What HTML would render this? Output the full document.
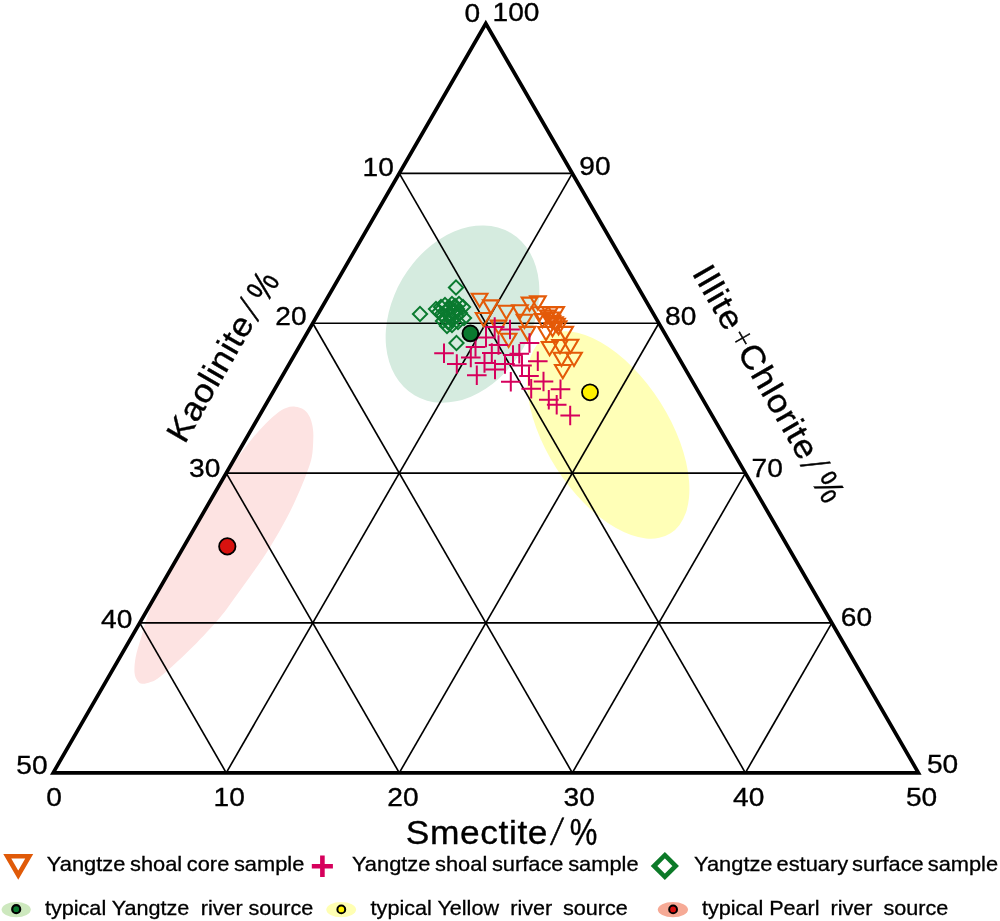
<!DOCTYPE html>
<html><head><meta charset="utf-8"><title>Ternary diagram</title>
<style>html,body{margin:0;padding:0;background:#fff}body{width:1000px;height:921px;overflow:hidden}svg{display:block}text{font-family:"Liberation Sans",Arial,sans-serif;fill:#000;stroke:#000;stroke-width:0.35px}#legend text{stroke-width:0.3px}.thin{font-family:"DejaVu Sans","Liberation Sans",sans-serif;font-weight:200;stroke-width:0.5px}</style></head><body>
<svg width="1000" height="921" viewBox="0 0 1000 921">
<rect width="1000" height="921" fill="#fff"/>
<clipPath id="tri"><polygon points="485.80,23.51 53.20,772.80 918.40,772.80"/></clipPath>
<g id="fields" clip-path="url(#tri)">
<ellipse cx="462.5" cy="314.1" rx="69.7" ry="94.4" transform="rotate(30.6 462.5 314.1)" fill="#d5ebdf"/>
<ellipse cx="608.15" cy="435" rx="61.6" ry="116.4" transform="rotate(-32.44 608.15 435)" fill="#ffffb7"/>
<path d="M295.1 406.7C298.1 407.0 301.5 407.9 304.0 409.7C306.5 411.5 308.5 414.2 310.0 417.5C311.5 420.8 312.5 425.4 313.0 429.4C313.5 433.4 313.4 436.8 313.2 441.4C313.0 446.0 312.8 452.0 311.8 456.9C310.9 461.8 309.5 465.5 307.5 471.0C305.5 476.5 303.3 482.4 300.0 490.0C296.7 497.6 292.4 507.2 287.5 516.6C282.6 526.0 276.2 537.0 270.6 546.2C265.0 555.4 259.5 563.1 253.6 571.6C247.7 580.1 240.9 589.4 235.3 597.0C229.7 604.6 226.9 609.3 220.0 617.5C213.1 625.7 201.6 638.0 193.6 646.1C185.6 654.2 178.1 661.0 172.1 666.4C166.1 671.8 161.4 675.8 157.8 678.4C154.2 681.0 153.2 681.1 150.6 682.0C148.0 682.9 144.4 684.0 142.2 683.8C140.0 683.6 138.8 682.7 137.5 680.8C136.2 678.9 134.8 676.4 134.5 672.4C134.2 668.4 134.6 662.7 135.7 656.9C136.8 651.1 138.9 645.3 141.1 637.8C143.3 630.3 145.3 622.5 149.0 612.0C152.7 601.5 156.8 587.8 163.0 575.0C169.2 562.2 178.7 547.5 186.0 535.0C193.3 522.5 199.3 511.6 207.0 500.0C214.7 488.4 226.6 473.2 232.4 465.2C238.2 457.2 238.3 456.9 241.9 452.1C245.5 447.3 249.9 441.4 253.9 436.6C257.9 431.8 261.8 427.4 265.8 423.4C269.8 419.4 274.4 415.3 277.8 412.7C281.2 410.1 283.2 408.9 286.1 407.9C289.0 406.9 292.1 406.4 295.1 406.7Z" fill="#fde3e2"/>
</g>
<g id="grid" stroke="#000" stroke-width="1.65" fill="none">
<line x1="399.28" y1="173.37" x2="572.32" y2="173.37"/>
<line x1="226.24" y1="772.80" x2="572.32" y2="173.37"/>
<line x1="745.36" y1="772.80" x2="399.28" y2="173.37"/>
<line x1="312.76" y1="323.23" x2="658.84" y2="323.23"/>
<line x1="399.28" y1="772.80" x2="658.84" y2="323.23"/>
<line x1="572.32" y1="772.80" x2="312.76" y2="323.23"/>
<line x1="226.24" y1="473.09" x2="745.36" y2="473.09"/>
<line x1="572.32" y1="772.80" x2="745.36" y2="473.09"/>
<line x1="399.28" y1="772.80" x2="226.24" y2="473.09"/>
<line x1="139.72" y1="622.94" x2="831.88" y2="622.94"/>
<line x1="745.36" y1="772.80" x2="831.88" y2="622.94"/>
<line x1="226.24" y1="772.80" x2="139.72" y2="622.94"/>
</g>
<polygon points="485.80,23.51 53.20,772.80 918.40,772.80" fill="none" stroke="#000" stroke-width="3.7" stroke-linejoin="miter"/>
<g id="core" fill="none" stroke="#e45a08" stroke-width="2.1">
<path d="M471.8 293.8L487.4 293.8L479.6 307.0Z"/>
<path d="M483.0 300.4L498.6 300.4L490.8 313.6Z"/>
<path d="M475.8 313.0L491.4 313.0L483.6 326.2Z"/>
<path d="M498.6 305.8L514.2 305.8L506.4 319.0Z"/>
<path d="M490.7 320.6L506.3 320.6L498.5 333.8Z"/>
<path d="M500.8 333.8L516.4 333.8L508.6 347.0Z"/>
<path d="M512.2 305.2L527.8 305.2L520.0 318.4Z"/>
<path d="M521.7 297.6L537.3 297.6L529.5 310.8Z"/>
<path d="M530.1 296.4L545.7 296.4L537.9 309.6Z"/>
<path d="M516.7 314.7L532.3 314.7L524.5 327.9Z"/>
<path d="M519.7 326.9L535.3 326.9L527.5 340.1Z"/>
<path d="M557.4 326.9L573.0 326.9L565.2 340.1Z"/>
<path d="M541.8 342.0L557.4 342.0L549.6 355.2Z"/>
<path d="M562.7 339.8L578.3 339.8L570.5 353.0Z"/>
<path d="M552.2 340.0L567.8 340.0L560.0 353.2Z"/>
<path d="M566.2 352.8L581.8 352.8L574.0 366.0Z"/>
<path d="M553.7 352.8L569.3 352.8L561.5 366.0Z"/>
<path d="M555.0 365.0L570.6 365.0L562.8 378.2Z"/>
<path d="M532.0 307.2L547.6 307.2L539.8 320.4Z"/>
<path d="M542.2 307.1L557.8 307.1L550.0 320.3Z"/>
<path d="M548.4 307.1L564.0 307.1L556.2 320.3Z"/>
<path d="M540.0 310.6L555.6 310.6L547.8 323.8Z"/>
<path d="M534.7 314.1L550.3 314.1L542.5 327.3Z"/>
<path d="M544.7 315.8L560.3 315.8L552.5 329.0Z"/>
<path d="M549.2 318.7L564.8 318.7L557.0 331.9Z"/>
<path d="M550.8 321.2L566.4 321.2L558.6 334.4Z"/>
<path d="M544.7 323.0L560.3 323.0L552.5 336.2Z"/>
<path d="M538.2 327.0L553.8 327.0L546.0 340.2Z"/>
<path d="M547.2 317.2L562.8 317.2L555.0 330.4Z"/>
<path d="M543.2 312.5L558.8 312.5L551.0 325.7Z"/>
</g>
<g id="surf" fill="none" stroke="#d6005c" stroke-width="2">
<path d="M434.2 353.3H453.8M444.0 343.5V363.1"/>
<path d="M447.0 364.0H466.6M456.8 354.2V373.8"/>
<path d="M461.0 357.5H480.6M470.8 347.7V367.3"/>
<path d="M467.0 375.3H486.6M476.8 365.5V385.1"/>
<path d="M465.7 347.0H485.3M475.5 337.2V356.8"/>
<path d="M476.2 337.5H495.8M486.0 327.7V347.3"/>
<path d="M484.9 327.0H504.5M494.7 317.2V336.8"/>
<path d="M500.2 329.5H519.8M510.0 319.7V339.3"/>
<path d="M482.0 353.0H501.6M491.8 343.2V362.8"/>
<path d="M474.7 363.0H494.3M484.5 353.2V372.8"/>
<path d="M485.2 369.5H504.8M495.0 359.7V379.3"/>
<path d="M488.7 345.0H508.3M498.5 335.2V354.8"/>
<path d="M495.2 364.0H514.8M505.0 354.2V373.8"/>
<path d="M501.0 381.8H520.6M510.8 372.0V391.6"/>
<path d="M503.2 355.0H522.8M513.0 345.2V364.8"/>
<path d="M509.5 353.8H529.1M519.3 344.0V363.6"/>
<path d="M512.2 365.5H531.8M522.0 355.7V375.3"/>
<path d="M528.0 361.2H547.6M537.8 351.4V371.0"/>
<path d="M519.7 343.0H539.3M529.5 333.2V352.8"/>
<path d="M519.2 376.0H538.8M529.0 366.2V385.8"/>
<path d="M521.4 388.8H541.0M531.2 379.0V398.6"/>
<path d="M533.7 381.5H553.3M543.5 371.7V391.3"/>
<path d="M550.7 389.2H570.3M560.5 379.4V399.0"/>
<path d="M539.0 399.8H558.6M548.8 390.0V409.6"/>
<path d="M546.9 404.8H566.5M556.7 395.0V414.6"/>
<path d="M560.4 415.5H580.0M570.2 405.7V425.3"/>
</g>
<g id="est" fill="none" stroke="#0a7a2f" stroke-width="2">
<path d="M456.0 280.4L463.1 287.5L456.0 294.6L448.9 287.5Z"/>
<path d="M420.0 306.9L427.1 314.0L420.0 321.1L412.9 314.0Z"/>
<path d="M456.5 335.9L463.6 343.0L456.5 350.1L449.4 343.0Z"/>
<path d="M436.0 301.9L443.1 309.0L436.0 316.1L428.9 309.0Z"/>
<path d="M439.0 304.9L446.1 312.0L439.0 319.1L431.9 312.0Z"/>
<path d="M442.0 306.9L449.1 314.0L442.0 321.1L434.9 314.0Z"/>
<path d="M441.0 299.9L448.1 307.0L441.0 314.1L433.9 307.0Z"/>
<path d="M445.0 297.9L452.1 305.0L445.0 312.1L437.9 305.0Z"/>
<path d="M447.0 302.9L454.1 310.0L447.0 317.1L439.9 310.0Z"/>
<path d="M450.0 300.9L457.1 308.0L450.0 315.1L442.9 308.0Z"/>
<path d="M452.0 296.9L459.1 304.0L452.0 311.1L444.9 304.0Z"/>
<path d="M455.0 298.9L462.1 306.0L455.0 313.1L447.9 306.0Z"/>
<path d="M457.0 301.9L464.1 309.0L457.0 316.1L449.9 309.0Z"/>
<path d="M453.0 304.9L460.1 312.0L453.0 319.1L445.9 312.0Z"/>
<path d="M449.0 307.9L456.1 315.0L449.0 322.1L441.9 315.0Z"/>
<path d="M445.0 310.9L452.1 318.0L445.0 325.1L437.9 318.0Z"/>
<path d="M448.0 314.9L455.1 322.0L448.0 329.1L440.9 322.0Z"/>
<path d="M452.0 312.9L459.1 320.0L452.0 327.1L444.9 320.0Z"/>
<path d="M456.0 308.9L463.1 316.0L456.0 323.1L448.9 316.0Z"/>
<path d="M460.0 305.9L467.1 313.0L460.0 320.1L452.9 313.0Z"/>
<path d="M463.0 299.9L470.1 307.0L463.0 314.1L455.9 307.0Z"/>
<path d="M464.0 310.9L471.1 318.0L464.0 325.1L456.9 318.0Z"/>
<path d="M458.0 314.9L465.1 322.0L458.0 329.1L450.9 322.0Z"/>
<path d="M452.0 317.9L459.1 325.0L452.0 332.1L444.9 325.0Z"/>
<path d="M447.0 318.9L454.1 326.0L447.0 333.1L439.9 326.0Z"/>
<path d="M443.0 313.9L450.1 321.0L443.0 328.1L435.9 321.0Z"/>
<path d="M455.0 303.9L462.1 311.0L455.0 318.1L447.9 311.0Z"/>
<path d="M451.0 309.9L458.1 317.0L451.0 324.1L443.9 317.0Z"/>
<path d="M459.0 296.9L466.1 304.0L459.0 311.1L451.9 304.0Z"/>
</g>
<circle cx="470.4" cy="333.4" r="7.9" fill="#0a7a2f" stroke="#000" stroke-width="1.9"/>
<circle cx="590" cy="392.3" r="8" fill="#fff100" stroke="#000" stroke-width="1.8"/>
<circle cx="227.3" cy="546.4" r="8.2" fill="#d7120f" stroke="#000" stroke-width="1.8"/>
<g id="ticks" font-size="26.4">
<text transform="translate(464.42 22.00) scale(1.065 1)">0</text>
<text transform="translate(492.57 21.00) scale(1.065 1)">100</text>
<text transform="translate(362.59 176.00) scale(1.065 1)">10</text>
<text transform="translate(579.34 175.00) scale(1.065 1)">90</text>
<text transform="translate(275.34 325.00) scale(1.065 1)">20</text>
<text transform="translate(665.09 325.00) scale(1.065 1)">80</text>
<text transform="translate(189.09 476.50) scale(1.065 1)">30</text>
<text transform="translate(751.59 477.00) scale(1.065 1)">70</text>
<text transform="translate(101.09 627.50) scale(1.065 1)">40</text>
<text transform="translate(840.84 625.50) scale(1.065 1)">60</text>
<text transform="translate(16.34 773.50) scale(1.065 1)">50</text>
<text transform="translate(926.94 772.70) scale(1.065 1)">50</text>
<text transform="translate(46.27 806.30) scale(1.065 1)">0</text>
<text transform="translate(213.59 806.00) scale(1.065 1)">10</text>
<text transform="translate(387.34 806.00) scale(1.065 1)">20</text>
<text transform="translate(563.59 806.00) scale(1.065 1)">30</text>
<text transform="translate(733.09 806.00) scale(1.065 1)">40</text>
<text transform="translate(905.94 806.30) scale(1.065 1)">50</text>
</g>
<g id="tx" transform="translate(405.80 843.60) rotate(0)">
<text font-size="33.2" letter-spacing="0.563" transform="translate(0.00 0) scale(1.065 1)">Smectite</text>
<text class="thin" font-size="33.45" transform="translate(144.19 -1.11) skewX(-7.6)">/</text>
<text font-size="36.7" transform="translate(163.87 0.90) scale(0.846 1)">%</text>
</g>
<g id="tl" transform="translate(184.65 444.80) rotate(-60)">
<text font-size="33.2" letter-spacing="0.563" transform="translate(0.00 0) scale(1.065 1)">Kaolinite</text>
<text class="thin" font-size="33.45" transform="translate(142.88 -1.11) skewX(-7.6)">/</text>
<text font-size="36.7" transform="translate(162.56 0.90) scale(0.846 1)">%</text>
</g>
<g id="tr" transform="translate(691.40 273.00) rotate(60)">
<text font-size="33.2" letter-spacing="1.127" transform="translate(0.00 0) scale(1.065 1)">Illite</text>
<text class="thin" font-size="22.05" transform="translate(72.54 -3.74) scale(1 1.18)">+</text>
<text font-size="33.2" letter-spacing="0.704" transform="translate(90.91 0) scale(1.065 1)">Chlorite</text>
<text class="thin" font-size="33.45" transform="translate(220.44 -1.11) skewX(-7.6)">/</text>
<text font-size="36.7" transform="translate(240.12 0.90) scale(0.846 1)">%</text>
</g>
<g id="legend" font-size="20">
<text word-spacing="-1.3" transform="translate(46.8 871.4) scale(1.092 1)">Yangtze shoal core sample</text>
<text word-spacing="-1.3" transform="translate(351.9 871.4) scale(1.092 1)">Yangtze shoal surface sample</text>
<text word-spacing="-1.9" transform="translate(694.0 871.4) scale(1.092 1)">Yangtze estuary surface sample</text>
<text word-spacing="0" transform="translate(45.0 914.5) scale(1.08 1)">typical Yangtze</text>
<text word-spacing="0" transform="translate(200.8 914.5) scale(1.08 1)">river</text>
<text word-spacing="0" transform="translate(248.4 914.5) scale(1.08 1)">source</text>
<text word-spacing="0" transform="translate(370.6 914.5) scale(1.08 1)">typical Yellow</text>
<text word-spacing="0" transform="translate(510.2 914.5) scale(1.08 1)">river</text>
<text word-spacing="0" transform="translate(562.9 914.5) scale(1.08 1)">source</text>
<text word-spacing="0" transform="translate(702.0 914.5) scale(1.08 1)">typical Pearl</text>
<text word-spacing="0" transform="translate(830.6 914.5) scale(1.08 1)">river</text>
<text word-spacing="0" transform="translate(883.4 914.5) scale(1.08 1)">source</text>
<path d="M7.25 856.2H29.25L18.25 875.25Z" fill="none" stroke="#e05a08" stroke-width="4.6"/>
<path d="M311.8 866.3H332.9M322.4 855.4V877" fill="none" stroke="#d6005c" stroke-width="4.6"/>
<path d="M664.85 855.15L675.7 866L664.85 876.85L654 866Z" fill="none" stroke="#0c7a28" stroke-width="4.6"/>
<ellipse cx="16.2" cy="909.6" rx="14.6" ry="7.7" fill="#cde8be"/><circle cx="16.2" cy="909.2" r="4" fill="#0a7a2f" stroke="#000" stroke-width="2.2"/>
<ellipse cx="341.2" cy="909.6" rx="14.9" ry="7.7" fill="#ffffb3"/><circle cx="341.3" cy="909.4" r="3.9" fill="#fff100" stroke="#000" stroke-width="2"/>
<ellipse cx="672.9" cy="909.6" rx="15.1" ry="7.7" fill="#f6aa96"/><circle cx="673.1" cy="909.4" r="3.9" fill="#d7100f" stroke="#000" stroke-width="2"/>
</g>
</svg></body></html>
